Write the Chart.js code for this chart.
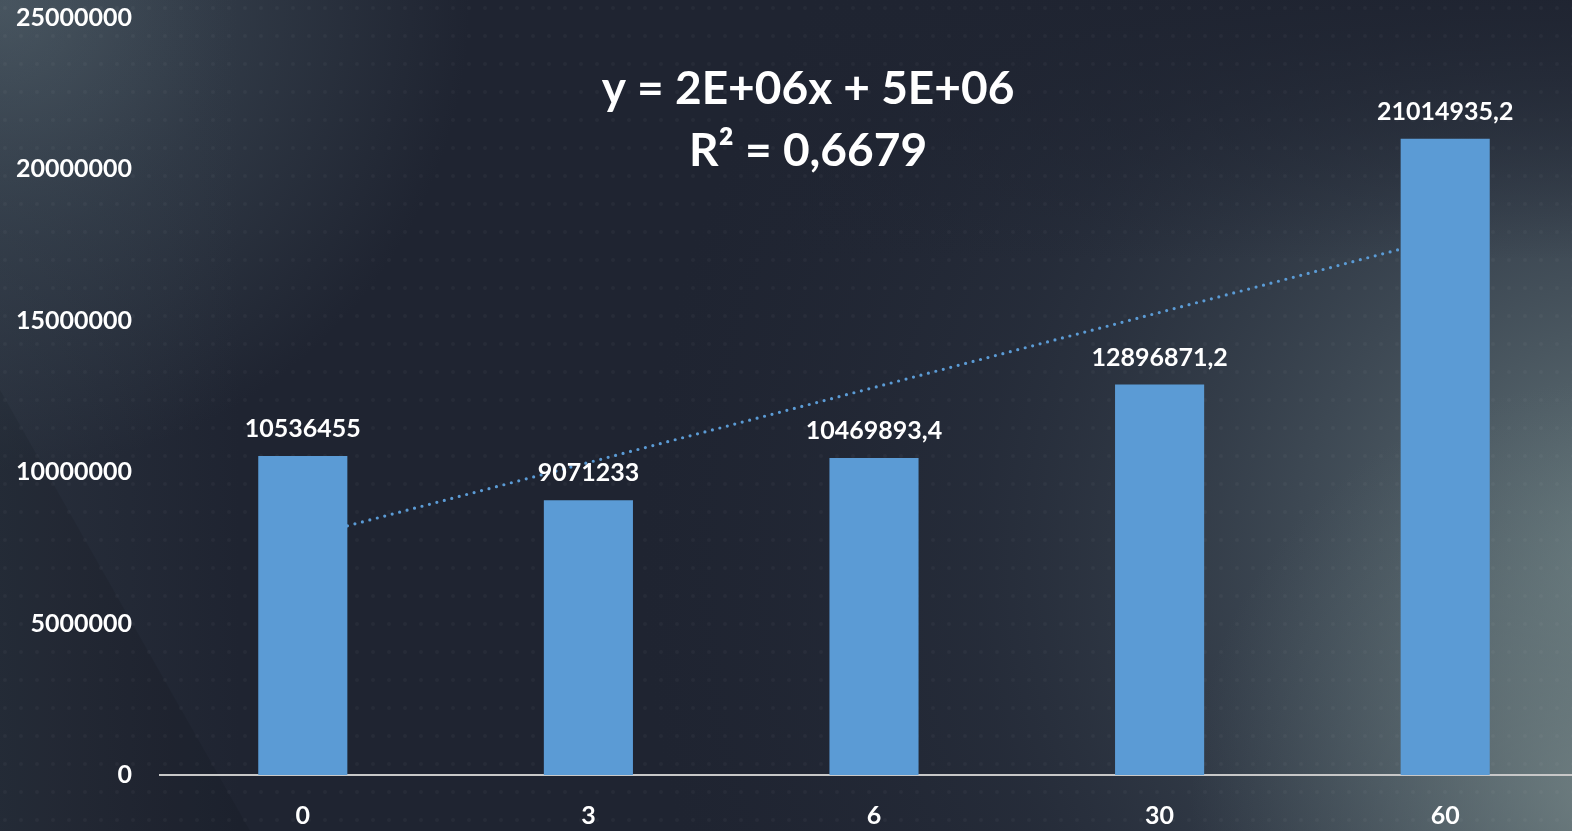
<!DOCTYPE html>
<html>
<head>
<meta charset="utf-8">
<script src="https://cdn.jsdelivr.net/npm/chart.js@4/dist/chart.umd.min.js"></script>
<style>
  html, body { margin: 0; padding: 0; background: #1f2431; overflow: hidden; }
  #wrap { width: 1590px; height: 831px; position: relative; }
</style>
</head>
<body>
<div id="wrap"><canvas id="chart"></canvas></div>
<script>
// Sampling times (category labels) and the measured values per time
const categories = ['0', '3', '6', '30', '60'];
const values = [10536455, 9071233, 10469893.4, 12896871.2, 21014935.2];
const valueLabels = ['10536455', '9071233', '10469893,4', '12896871,2', '21014935,2'];
const yTicks = [0, 5000000, 10000000, 15000000, 20000000, 25000000];
const equationLines = ['y = 2E+06x + 5E+06', 'R\u00B2 = 0,6679'];

// Linear least-squares trend over the category positions 1..n
function linearTrend(ys) {
  const n = ys.length;
  const xs = ys.map((_, i) => i + 1);
  const mx = xs.reduce((a, b) => a + b, 0) / n;
  const my = ys.reduce((a, b) => a + b, 0) / n;
  let sxy = 0, sxx = 0;
  xs.forEach((x, i) => { sxy += (x - mx) * (ys[i] - my); sxx += (x - mx) * (x - mx); });
  const slope = sxy / sxx;
  const intercept = my - slope * mx;
  return xs.map(x => slope * x + intercept);
}
const trend = linearTrend(values);

const FONT = 'Lato, "Open Sans", sans-serif';
const BAR = '#5b9bd5';

const backgroundPlugin = {
  id: 'backdrop',
  beforeDraw(chart) {
    const { ctx, width, height } = chart;
    ctx.save();
    // base dark slate
    ctx.fillStyle = '#1f2431';
    ctx.fillRect(0, 0, width, height);

    // broad lighter area along the right half
    const wide = ctx.createRadialGradient(1640, 560, 40, 1640, 560, 1000);
    wide.addColorStop(0, 'rgba(104,122,126,0.95)');
    wide.addColorStop(0.3, 'rgba(76,90,100,0.7)');
    wide.addColorStop(0.65, 'rgba(52,62,76,0.3)');
    wide.addColorStop(1, 'rgba(40,46,60,0)');
    ctx.fillStyle = wide;
    ctx.fillRect(0, 0, width, height);

    // brightest patch in the lower right corner
    const glow = ctx.createRadialGradient(1610, 800, 10, 1610, 800, 420);
    glow.addColorStop(0, 'rgba(125,142,142,0.7)');
    glow.addColorStop(1, 'rgba(100,118,122,0)');
    ctx.fillStyle = glow;
    ctx.fillRect(0, 0, width, height);

    // keep the top band dark
    const topShade = ctx.createLinearGradient(0, 0, 0, 260);
    topShade.addColorStop(0, 'rgba(31,36,49,0.95)');
    topShade.addColorStop(1, 'rgba(31,36,49,0)');
    ctx.fillStyle = topShade;
    ctx.fillRect(0, 0, width, 260);

    // lighter top-left corner
    const corner = ctx.createRadialGradient(0, 0, 10, 0, 0, 470);
    corner.addColorStop(0, 'rgba(78,92,102,0.95)');
    corner.addColorStop(0.5, 'rgba(60,72,84,0.55)');
    corner.addColorStop(1, 'rgba(60,72,84,0)');
    ctx.fillStyle = corner;
    ctx.fillRect(0, 0, width, height);

    // slight lift on the left edge
    const leftSide = ctx.createLinearGradient(0, 0, 240, 0);
    leftSide.addColorStop(0, 'rgba(60,72,84,0.3)');
    leftSide.addColorStop(1, 'rgba(60,72,84,0)');
    ctx.fillStyle = leftSide;
    ctx.fillRect(0, 0, 240, height);

    // diagonal facet on the left
    ctx.beginPath();
    ctx.moveTo(0, 390);
    ctx.lineTo(0, 831);
    ctx.lineTo(250, 831);
    ctx.closePath();
    ctx.fillStyle = 'rgba(0,0,0,0.08)';
    ctx.fill();

    // subtle dotted texture
    ctx.fillStyle = 'rgba(255,255,255,0.035)';
    for (let y = 8; y < height; y += 28) {
      for (let x = 5; x < width; x += 16) {
        ctx.beginPath();
        ctx.arc(x, y, 2, 0, Math.PI * 2);
        ctx.fill();
      }
    }
    ctx.restore();
  }
};

const labelPlugin = {
  id: 'valueLabels',
  afterDatasetsDraw(chart) {
    const { ctx } = chart;
    const meta = chart.getDatasetMeta(0);
    ctx.save();
    ctx.fillStyle = '#ffffff';
    ctx.font = 'bold 25px ' + FONT;
    ctx.textAlign = 'center';
    ctx.textBaseline = 'middle';
    meta.data.forEach((bar, i) => {
      ctx.fillText(valueLabels[i], bar.x, bar.y - 27);
    });
    // trend equation
    ctx.font = 'bold 46px ' + FONT;
    ctx.fillText(equationLines[0], 808, 89);
    ctx.fillText(equationLines[1], 808, 151);
    ctx.restore();
  }
};

new Chart(document.getElementById('chart'), {
  data: {
    labels: categories,
    datasets: [
      {
        type: 'bar',
        data: values,
        backgroundColor: BAR,
        borderWidth: 0,
        categoryPercentage: 1,
        barPercentage: 0.312,
        order: 0
      },
      {
        type: 'line',
        data: trend,
        borderColor: BAR,
        borderWidth: 3.2,
        borderDash: [0, 7.7],
        borderCapStyle: 'round',
        pointRadius: 0,
        fill: false,
        order: 1
      }
    ]
  },
  options: {
    responsive: true,
    maintainAspectRatio: false,
    animation: false,
    events: [],
    layout: { padding: { top: 18, right: 2, left: 0, bottom: 0 } },
    plugins: { legend: { display: false }, tooltip: { enabled: false } },
    scales: {
      x: {
        offset: true,
        grid: { display: false, drawTicks: false },
        border: { display: true, color: '#c8c8c8', width: 2 },
        ticks: { color: '#ffffff', font: { family: FONT, size: 25, weight: 'bold' }, padding: 26 },
        afterFit(scale) { scale.height = 56; }
      },
      y: {
        min: 0,
        max: 25000000,
        afterBuildTicks(scale) { scale.ticks = yTicks.map(v => ({ value: v })); },
        grid: { display: false, drawTicks: false },
        border: { display: false },
        ticks: {
          color: '#ffffff',
          font: { family: FONT, size: 25, weight: 'bold' },
          padding: 28,
          callback: v => String(v)
        },
        afterFit(scale) {
          scale.width = 160;
          scale.paddingTop = 0;
          scale.paddingBottom = 0;
        }
      }
    }
  },
  plugins: [backgroundPlugin, labelPlugin]
});
</script>
</body>
</html>
